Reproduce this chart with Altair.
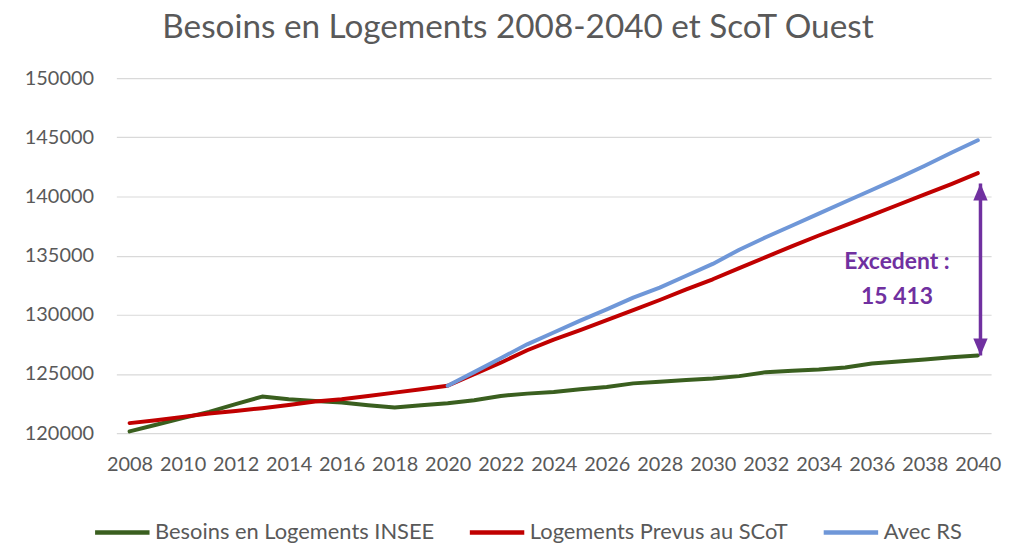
import altair as alt
import pandas as pd

# ---------------- data ----------------
years = list(range(2008, 2041))
besoins_insee = [120140, 120700, 121260, 121790, 122440, 123085, 122860, 122715,
                 122580, 122350, 122160, 122350, 122520, 122775, 123140, 123335,
                 123470, 123700, 123890, 124200, 124345, 124480, 124620, 124815,
                 125150, 125265, 125380, 125550, 125880, 126050, 126220, 126410,
                 126560]
logements_scot = [120840, 121090, 121370, 121650, 121870, 122100, 122380, 122660,
                  122860, 123140, 123420, 123700, 124000, 124980, 125950, 127000,
                  127900, 128700, 129550, 130400, 131250, 132150, 133000, 133950,
                  134880, 135800, 136700, 137550, 138420, 139300, 140180, 141050,
                  141973]
avec_rs_years = list(range(2020, 2041))
avec_rs = [124000, 125150, 126330, 127500, 128500, 129500, 130450, 131450,
           132300, 133300, 134300, 135500, 136550, 137550, 138550, 139550,
           140550, 141550, 142600, 143700, 144750]

series_names = ["Besoins en Logements INSEE", "Logements Prevus au SCoT", "Avec RS"]
series_colors = ["#3A5F1F", "#C00000", "#6F97D8"]

x_ticks = list(range(2008, 2041, 2))
y_ticks = [120000, 125000, 130000, 135000, 140000, 145000, 150000]

title_text = "Besoins en Logements 2008-2040 et ScoT Ouest"
annot_lines = ["Excedent :", "15 413"]
annot_x = [2036.95, 2036.95]
annot_y = [134450, 131500]
arrow_year = 2040.1
arrow_top = 141100
arrow_bottom = 126560

# ---------------- tables ----------------
rows = []
for yr, v in zip(years, besoins_insee):
    rows.append({"annee": yr, "valeur": v, "serie": series_names[0]})
for yr, v in zip(years, logements_scot):
    rows.append({"annee": yr, "valeur": v, "serie": series_names[1]})
for yr, v in zip(avec_rs_years, avec_rs):
    rows.append({"annee": yr, "valeur": v, "serie": series_names[2]})
df = pd.DataFrame(rows)

annot_df = pd.DataFrame({"annee": annot_x, "valeur": annot_y, "txt": annot_lines})
arrow_df = pd.DataFrame({"annee": [arrow_year], "y1": [arrow_top], "y2": [arrow_bottom]})
head_up = pd.DataFrame({"annee": [arrow_year], "valeur": [arrow_top]})
head_down = pd.DataFrame({"annee": [arrow_year], "valeur": [arrow_bottom]})

FONT = "Lato"
GREY = "#595959"
PURPLE = "#7030A0"

x_scale = alt.Scale(domain=[2007.5, 2040.5], nice=False, zero=False)
y_scale = alt.Scale(domain=[120000, 150000], nice=False, zero=False)

x_axis = alt.Axis(values=x_ticks, format="d", title=None, grid=False, domain=False,
                  ticks=False, labelFontSize=20, labelColor=GREY, labelFont=FONT,
                  labelPadding=22, labelFlush=False, labelOverlap=False)
y_axis = alt.Axis(values=y_ticks, format="d", title=None, grid=True, gridColor="#D9D9D9",
                  gridWidth=1.2, domain=False, ticks=False, labelFontSize=20,
                  labelColor=GREY, labelFont=FONT, labelPadding=23)

color = alt.Color("serie:N",
                  scale=alt.Scale(domain=series_names, range=series_colors),
                  legend=alt.Legend(title=None, orient="none", legendX=-24, legendY=427,
                                    direction="horizontal", symbolType="stroke",
                                    symbolStrokeWidth=4.5, symbolSize=3000,
                                    labelFontSize=22, labelColor=GREY, labelFont=FONT,
                                    labelOffset=3, columnPadding=26, labelLimit=400))

base = alt.Chart(df)
layers = []
for name in series_names:
    lyr = base.transform_filter(alt.datum.serie == name).mark_line(
        strokeWidth=4, strokeCap="round", strokeJoin="round"
    ).encode(
        x=alt.X("annee:Q", scale=x_scale, axis=x_axis),
        y=alt.Y("valeur:Q", scale=y_scale, axis=y_axis),
        color=color,
    )
    layers.append(lyr)

shaft = alt.Chart(arrow_df).mark_rule(color=PURPLE, strokeWidth=3.5).encode(
    x=alt.X("annee:Q", scale=x_scale, axis=x_axis),
    y=alt.Y("y1:Q", scale=y_scale, axis=y_axis), y2="y2:Q")
up = alt.Chart(head_up).mark_point(
    shape="M0,0L-0.8,1.9L0.8,1.9Z", filled=True, opacity=1, color=PURPLE, size=324,
    strokeWidth=0).encode(x=alt.X("annee:Q", scale=x_scale, axis=x_axis),
                          y=alt.Y("valeur:Q", scale=y_scale, axis=y_axis))
down = alt.Chart(head_down).mark_point(
    shape="M0,0L-0.8,-1.9L0.8,-1.9Z", filled=True, opacity=1, color=PURPLE, size=324,
    strokeWidth=0).encode(x=alt.X("annee:Q", scale=x_scale, axis=x_axis),
                          y=alt.Y("valeur:Q", scale=y_scale, axis=y_axis))
texts = alt.Chart(annot_df).mark_text(
    font=FONT, fontSize=23, fontWeight="bold", color=PURPLE, baseline="middle",
    align="center").encode(x=alt.X("annee:Q", scale=x_scale, axis=x_axis),
                           y=alt.Y("valeur:Q", scale=y_scale, axis=y_axis),
                           text="txt:N")

chart = alt.layer(*layers, shaft, up, down, texts).properties(
    width=880, height=357,
    padding={"left": 109, "top": 69, "right": 14, "bottom": 112},
    autosize=alt.AutoSizeParams(type="none"),
    title=alt.TitleParams(title_text, fontSize=33.5, font=FONT, fontWeight="normal",
                          color=GREY, anchor="middle", dx=-36, offset=-3,
                          baseline="alphabetic"),
).configure_view(strokeWidth=0, stroke="transparent")

chart.save("out.html", embed_options={"renderer": "svg", "actions": False})
